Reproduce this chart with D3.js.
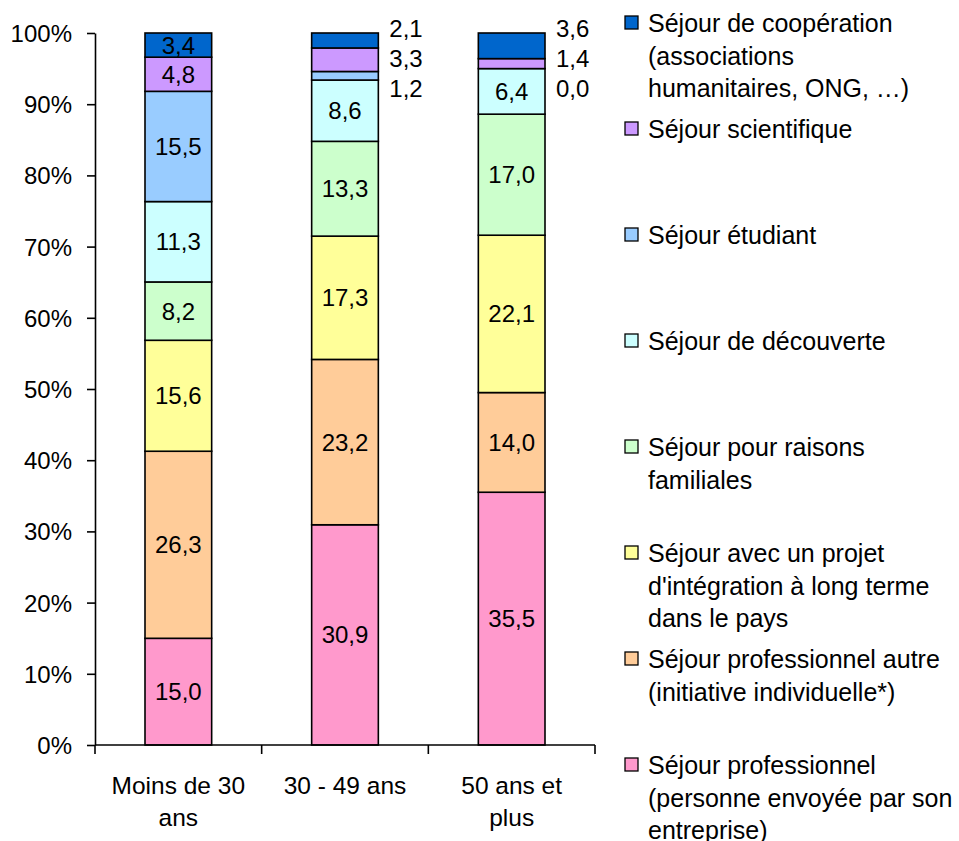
<!DOCTYPE html>
<html><head><meta charset="utf-8">
<script src="https://cdn.jsdelivr.net/npm/d3@7"></script>
<style>
html,body{margin:0;padding:0;background:#fff;}
svg text{font-family:"Liberation Sans",Arial,sans-serif;fill:#000;}
</style></head>
<body><svg id="chart" width="959" height="841"></svg>
<script>
const categories = ["Moins de 30 ans", "30 - 49 ans", "50 ans et plus"];
const categoryLines = [["Moins de 30", "ans"], ["30 - 49 ans"], ["50 ans et", "plus"]];
const seriesNames = [
  "Séjour professionnel (personne envoyée par son entreprise)",
  "Séjour professionnel autre (initiative individuelle*)",
  "Séjour avec un projet d'intégration à long terme dans le pays",
  "Séjour pour raisons familiales",
  "Séjour de découverte",
  "Séjour étudiant",
  "Séjour scientifique",
  "Séjour de coopération (associations humanitaires, ONG, …)"
];
const legendLines = [
  ["Séjour professionnel", "(personne envoyée par son", "entreprise)"],
  ["Séjour professionnel autre", "(initiative individuelle*)"],
  ["Séjour avec un projet", "d'intégration à long terme", "dans le pays"],
  ["Séjour pour raisons", "familiales"],
  ["Séjour de découverte"],
  ["Séjour étudiant"],
  ["Séjour scientifique"],
  ["Séjour de coopération", "(associations", "humanitaires, ONG, …)"]
];
const seriesColors = ["#FF99CC", "#FFCC99", "#FFFF99", "#CCFFCC", "#CCFFFF", "#99CCFF", "#CC99FF", "#0066CC"];
const proEnvoye     = [15.0, 30.9, 35.5];
const proAutre      = [26.3, 23.2, 14.0];
const integration   = [15.6, 17.3, 22.1];
const familiales    = [8.2, 13.3, 17.0];
const decouverte    = [11.3, 8.6, 6.4];
const etudiant      = [15.5, 1.2, 0.0];
const scientifique  = [4.8, 3.3, 1.4];
const cooperation   = [3.4, 2.1, 3.6];
const seriesValues = [proEnvoye, proAutre, integration, familiales, decouverte, etudiant, scientifique, cooperation];
const yTicks = [0, 0.1, 0.2, 0.3, 0.4, 0.5, 0.6, 0.7, 0.8, 0.9, 1.0];
// categories whose three top segments are labelled beside the bar
const outsideCats = ["30 - 49 ans", "50 ans et plus"];
const outsideSeries = [7, 6, 5];

const svg = d3.select("#chart");
const margin = {left: 95, right: 364, top: 33, bottom: 96};
const W = 959, H = 841;
const x = d3.scaleBand().domain(categories).range([margin.left, W - margin.right]).paddingInner(0.6).paddingOuter(0.3);
const y = d3.scaleLinear().domain([0, 1]).range([H - margin.bottom, margin.top]);

const table = categories.map((c, i) => {
  const o = {cat: c};
  seriesNames.forEach((s, k) => o[s] = seriesValues[k][i]);
  return o;
});
const stacked = d3.stack().keys(seriesNames).offset(d3.stackOffsetExpand)(table);
const fmt = v => d3.format(".1f")(v).replace(".", ",");

// bars
const g = svg.append("g");
stacked.forEach((layer, k) => {
  g.selectAll(null).data(layer).enter().append("rect")
    .attr("x", d => x(d.data.cat))
    .attr("width", x.bandwidth())
    .attr("y", d => y(d[1]))
    .attr("height", d => Math.max(0, y(d[0]) - y(d[1])))
    .attr("fill", seriesColors[k])
    .attr("stroke", "#000").attr("stroke-width", 1.6);
});

// inside labels
stacked.forEach((layer, k) => {
  layer.forEach(d => {
    const c = d.data.cat;
    if (outsideCats.includes(c) && outsideSeries.includes(k)) return;
    svg.append("text")
      .attr("x", x(c) + x.bandwidth() / 2)
      .attr("y", (y(d[0]) + y(d[1])) / 2 + 8.5)
      .attr("text-anchor", "middle")
      .attr("font-size", 24)
      .text(fmt(d.data[seriesNames[k]]));
  });
});
// outside labels
outsideCats.forEach(c => {
  const i = categories.indexOf(c);
  outsideSeries.forEach((k, j) => {
    svg.append("text")
      .attr("x", x(c) + x.bandwidth() + 11)
      .attr("y", y(1) + 4 + j * 30)
      .attr("font-size", 24)
      .text(fmt(seriesValues[k][i]));
  });
});

// y axis
const yAxis = d3.axisLeft(y).tickValues(yTicks).tickFormat(d3.format(".0%")).tickSize(8).tickSizeOuter(0);
const ya = svg.append("g").attr("transform", `translate(${margin.left},0)`).call(yAxis);
ya.select(".domain").attr("stroke", "#000").attr("stroke-width", 1.6);
ya.selectAll(".tick line").attr("stroke", "#000").attr("stroke-width", 1.6);
ya.selectAll(".tick text").attr("font-size", 24).attr("font-family", "Liberation Sans, Arial, sans-serif").attr("x", -23).attr("dy", "0.35em").attr("fill", "#000");

// x axis
const xa = svg.append("g").attr("transform", `translate(0,${y(0)})`);
xa.append("line").attr("x1", margin.left).attr("x2", W - margin.right).attr("stroke", "#000").attr("stroke-width", 1.6);
const step = x.step();
const boundaries = d3.range(categories.length + 1).map(i => margin.left + i * step);
xa.selectAll(null).data(boundaries).enter().append("line")
  .attr("x1", d => d).attr("x2", d => d).attr("y1", 0).attr("y2", 9)
  .attr("stroke", "#000").attr("stroke-width", 1.6);
categories.forEach((c, i) => {
  const t = xa.append("text").attr("text-anchor", "middle").attr("font-size", 24.5)
    .attr("x", x(c) + x.bandwidth() / 2).attr("y", 49);
  categoryLines[i].forEach((ln, j) => t.append("tspan").attr("x", x(c) + x.bandwidth() / 2).attr("dy", j ? 32 : 0).text(ln));
});

// legend (top to bottom = reverse stacking order)
const legendOrder = d3.range(seriesNames.length).reverse();
const lg = svg.append("g");
legendOrder.forEach((k, idx) => {
  const base = 32 + idx * 106;
  lg.append("rect").attr("x", 625).attr("y", base - 16).attr("width", 13).attr("height", 13)
    .attr("fill", seriesColors[k]).attr("stroke", "#000").attr("stroke-width", 1.3);
  const t = lg.append("text").attr("x", 648).attr("y", base).attr("font-size", 25);
  legendLines[k].forEach((ln, j) => t.append("tspan").attr("x", 648).attr("dy", j ? 32.7 : 0).text(ln));
});
</script></body></html>
